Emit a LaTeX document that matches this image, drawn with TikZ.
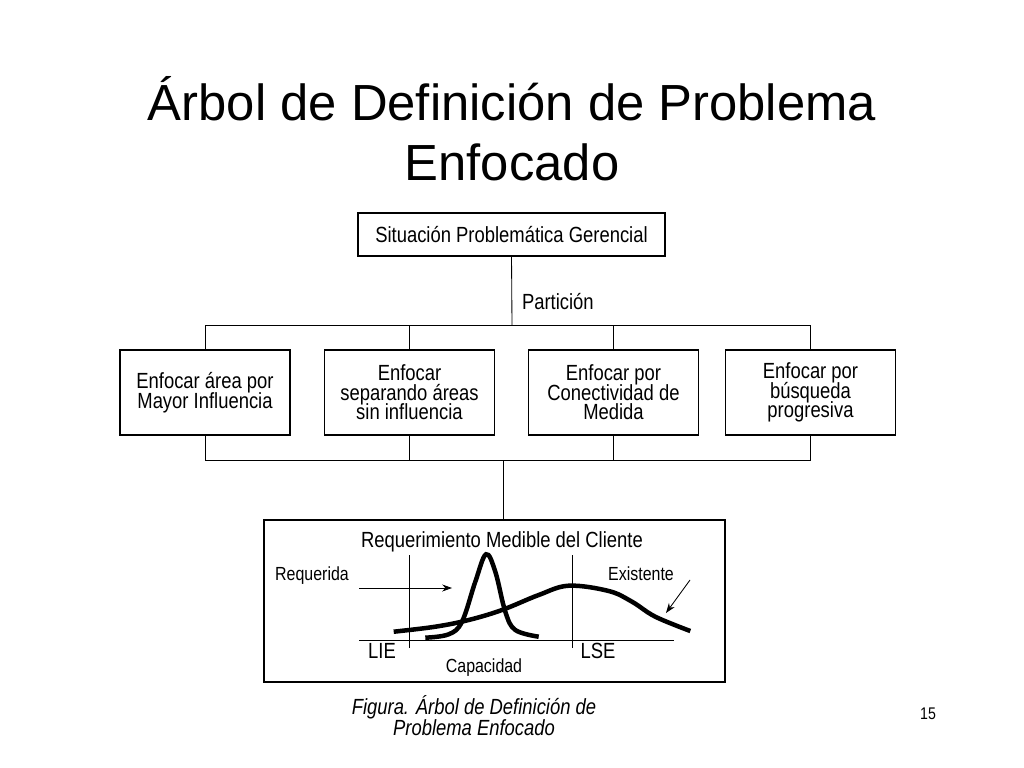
\documentclass[tikz,border=0pt]{standalone}
\usepackage{fontspec}
\setmainfont{Liberation Sans}
\newfontfamily\narrowsf[FakeStretch=0.84]{Liberation Sans}
\newcommand\boxfont{\narrowsf\fontsize{15.6pt}{13.8pt}\selectfont\lineskiplimit=-20pt\relax}
\usetikzlibrary{arrows.meta}

\begin{document}
\begin{tikzpicture}[x=0.025cm,y=-0.025cm,inner sep=0pt,outer sep=0pt,line width=0.6pt,
probbox/.style={draw,rectangle,line width=0.9pt,align=center,minimum width=4.25cm,minimum height=2.125cm,font=\boxfont},
lbl/.style={anchor=base,font=\narrowsf\fontsize{15.6pt}{13.5pt}\selectfont},
smalllbl/.style={anchor=base,font=\narrowsf\fontsize{13.5pt}{13.5pt}\selectfont},
curve/.style={line width=3.2pt},
pointer/.style={-{Stealth[length=7pt,width=5pt]}}]

\useasboundingbox (0,0) rectangle (1024,768);

\draw (512,129) node[align=center,font=\fontsize{36.1pt}{42.5pt}\selectfont] (title) {Árbol de Definición de Problema\\Enfocado};

\draw (511.5,234.5) node[probbox,minimum width=7.675cm,minimum height=1.075cm] (sit) {Situación Problemática Gerencial};
\draw (205,392.5) node[probbox] (areaA) {Enfocar área por\\Mayor Influencia};
\draw (409.5,392.5) node[probbox] (areaB) {Enfocar\\separando áreas\\sin influencia};
\draw (613.5,392.5) node[probbox] (areaC) {Enfocar por\\Conectividad de\\Medida};
\draw (810.5,392.5) node[probbox] (areaD) {Enfocar por\\búsqueda\\progresiva};
\draw (494.5,601) node[draw,rectangle,line width=0.9pt,minimum width=11.525cm,minimum height=4.05cm] (req) {};

% tree
\coordinate (split) at (512,325);
\coordinate (join) at (503,460);
\draw (sit.south) -- (split);
\draw (522,309) node[lbl,anchor=base west] (part) {Partición};
\foreach \b in {areaA,areaB,areaC,areaD} {
  \draw (\b.north) |- (split);
  \draw (\b.south) |- (join);
}
\draw (join) -- (join |- req.north);

% chart
\draw (502,547) node[lbl] (reqtitle) {Requerimiento Medible del Cliente};
\draw (359,640) -- (674,640);
\draw (409,555) -- (409,648);
\draw (572,555) -- (572,648);
\draw[curve] plot[smooth,tension=0.6] coordinates {(425.3,637.7) (448.7,634.3) (462,621.7) (475.3,581.7) (486,554.3) (495.3,571.7) (505.3,611.7) (515.3,630) (538.7,636.7)};
\draw[curve] plot[smooth,tension=0.6] coordinates {(393.7,631.7) (435.3,626.7) (468.7,620) (502,610) (538.7,595) (568.7,585.7) (608.7,591) (632,601.7) (655.3,616.7) (690.3,631)};
\draw (312,580) node[smalllbl] (requerida) {Requerida};
\draw (641,580) node[smalllbl] (existente) {Existente};
\coordinate (reqtail) at (359,588);
\coordinate (reqtip) at (452,588);
\coordinate (exitail) at (690,580);
\coordinate (exitip) at (666,613);
\draw[pointer] (reqtail) -- (reqtip);
\draw[pointer] (exitail) -- (exitip);
\draw (382,658) node[lbl] (lie) {LIE};
\draw (598,658) node[lbl] (lse) {LSE};
\draw (484,672) node[smalllbl] (cap) {Capacidad};

\draw (474,716) node[align=center,font=\narrowsf\itshape\fontsize{15.6pt}{14.9pt}\selectfont] (caption) {Figura. Árbol de Definición de\\Problema Enfocado};
\draw (928,719) node[anchor=base,font=\narrowsf\fontsize{12pt}{12pt}\selectfont] (pagenum) {15};
\end{tikzpicture}
\end{document}
